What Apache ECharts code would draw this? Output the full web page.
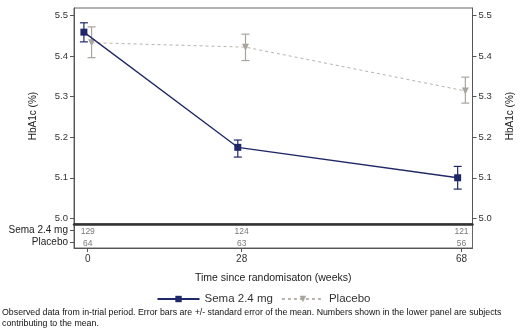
<!DOCTYPE html>
<html>
<head>
<meta charset="utf-8">
<script src="https://cdn.jsdelivr.net/npm/echarts@6/dist/echarts.min.js"></script>
<style>html,body{margin:0;padding:0;background:#fff;}#c{width:527px;height:328px;}</style>
</head>
<body>
<div id="c"></div>
<script>
const weeks = [0, 28, 68];
const semaMean = [5.459, 5.175, 5.100];
const semaLow = [5.435, 5.151, 5.072];
const semaHigh = [5.482, 5.193, 5.128];
const placeboMean = [5.433, 5.422, 5.314];
const placeboLow = [5.396, 5.389, 5.284];
const placeboHigh = [5.472, 5.454, 5.348];
const semaN = [129, 124, 121];
const placeboN = [64, 63, 56];
const yTicks = [5.0, 5.1, 5.2, 5.3, 5.4, 5.5];
const rows = ['Sema 2.4 mg', 'Placebo'];

const DODGE = 0.7; // weeks, side-by-side offset
const SEMA_C = '#1f2868';
const PLAC_C = '#a9a49c';
const FONT = 'Liberation Sans, Arial, sans-serif';

const chart = echarts.init(document.getElementById('c'), null, {renderer: 'canvas'});

function errData(low, high, dodge) {
  return weeks.map((w, i) => [w + dodge, low[i], high[i]]);
}
function errRender(color) {
  return function (params, api) {
    const x = api.value(0);
    const p1 = api.coord([x, api.value(1)]);
    const p2 = api.coord([x, api.value(2)]);
    const hw = 4;
    const st = {stroke: color, lineWidth: 1.2};
    return {type: 'group', children: [
      {type: 'line', shape: {x1: p1[0], y1: p1[1], x2: p2[0], y2: p2[1]}, style: st},
      {type: 'line', shape: {x1: p1[0]-hw, y1: p1[1], x2: p1[0]+hw, y2: p1[1]}, style: st},
      {type: 'line', shape: {x1: p2[0]-hw, y1: p2[1], x2: p2[0]+hw, y2: p2[1]}, style: st}
    ]};
  };
}

const axisLineGray = {show: true, onZero: false, lineStyle: {color: '#555', width: 1}};
const labelStyle = {fontFamily: FONT, fontSize: 9.5, color: '#333'};

const option = {
  backgroundColor: '#fff',
  animation: false,
  textStyle: {fontFamily: FONT},
  grid: [
    {left: 74, right: 54.5, top: 8, height: 216, show: true, borderColor: '#666', borderWidth: 1, backgroundColor: 'transparent'},
    {left: 74, right: 54.5, top: 224, height: 24, show: true, borderColor: '#666', borderWidth: 1, backgroundColor: 'transparent'}
  ],
  xAxis: [
    {type: 'value', gridIndex: 0, min: -2.5, max: 70,
     axisLine: {show: true, onZero: false, lineStyle: {color: '#333', width: 2.5}},
     axisTick: {show: false}, axisLabel: {show: false}, splitLine: {show: false}},
    {type: 'value', gridIndex: 1, min: -2.5, max: 70,
     name: 'Time since randomisaton (weeks)', nameLocation: 'middle', nameGap: 25,
     nameTextStyle: {fontFamily: FONT, fontSize: 10.5, color: '#222'},
     axisLine: {show: true, onZero: false, lineStyle: {color: '#555', width: 1}},
     axisTick: {show: true, length: 4, customValues: weeks, lineStyle: {color: '#555'}},
     axisLabel: {show: true, customValues: weeks, margin: 6, fontFamily: FONT, fontSize: 10, color: '#333'},
     splitLine: {show: false}}
  ],
  yAxis: [
    {type: 'value', gridIndex: 0, position: 'left', min: 4.986, max: 5.5185,
     name: 'HbA1c (%)', nameLocation: 'middle', nameGap: 36, nameRotate: 90,
     nameTextStyle: {fontFamily: FONT, fontSize: 10, color: '#222'},
     axisLine: axisLineGray, axisTick: {show: true, length: 4, customValues: yTicks, lineStyle: {color: '#555'}},
     axisLabel: Object.assign({customValues: yTicks, margin: 6, formatter: v => v.toFixed(1)}, labelStyle),
     splitLine: {show: false}},
    {type: 'value', gridIndex: 0, position: 'right', min: 4.986, max: 5.5185,
     name: 'HbA1c (%)', nameLocation: 'middle', nameGap: 33, nameRotate: 90,
     nameTextStyle: {fontFamily: FONT, fontSize: 10, color: '#222'},
     axisLine: axisLineGray, axisTick: {show: true, length: 4, customValues: yTicks, lineStyle: {color: '#555'}},
     axisLabel: Object.assign({customValues: yTicks, margin: 6, formatter: v => v.toFixed(1)}, labelStyle),
     splitLine: {show: false}},
    {type: 'category', gridIndex: 1, data: rows, inverse: true, position: 'left',
     axisLine: axisLineGray,
     axisTick: {show: true, alignWithLabel: true, interval: 0, length: 4, lineStyle: {color: '#555'}},
     axisLabel: {interval: 0, margin: 6, fontFamily: FONT, fontSize: 10, color: '#222'},
     splitLine: {show: false}}
  ],
  legend: {
    top: 288, left: 'center',
    itemWidth: 42, itemHeight: 8, itemGap: 8,
    textStyle: {fontFamily: FONT, fontSize: 11.5, color: '#333'},
    data: ['Sema 2.4 mg', 'Placebo']
  },
  series: [
    {name: 'Placebo', type: 'line', xAxisIndex: 0, yAxisIndex: 0,
     data: weeks.map((w, i) => [w + DODGE, placeboMean[i]]),
     symbol: 'triangle', symbolRotate: 180, symbolSize: 7,
     lineStyle: {color: '#b8b3ab', width: 1, type: [3, 3]},
     itemStyle: {color: PLAC_C}, z: 2},
    {type: 'custom', xAxisIndex: 0, yAxisIndex: 0, renderItem: errRender(PLAC_C),
     data: errData(placeboLow, placeboHigh, DODGE), z: 3, silent: true},
    {name: 'Sema 2.4 mg', type: 'line', xAxisIndex: 0, yAxisIndex: 0,
     data: weeks.map((w, i) => [w - DODGE, semaMean[i]]),
     symbol: 'rect', symbolSize: 7,
     lineStyle: {color: SEMA_C, width: 1.3},
     itemStyle: {color: SEMA_C}, z: 4},
    {type: 'custom', xAxisIndex: 0, yAxisIndex: 0, renderItem: errRender(SEMA_C),
     data: errData(semaLow, semaHigh, -DODGE), z: 5, silent: true},
    {type: 'scatter', xAxisIndex: 1, yAxisIndex: 2, symbolSize: 0,
     data: weeks.map((w, i) => [w, rows[0], semaN[i]]),
     label: {show: true, position: 'inside', offset: [0, 2], formatter: p => String(p.value[2]), fontFamily: FONT, fontSize: 8.5, color: '#555'}},
    {type: 'scatter', xAxisIndex: 1, yAxisIndex: 2, symbolSize: 0,
     data: weeks.map((w, i) => [w, rows[1], placeboN[i]]),
     label: {show: true, position: 'inside', offset: [0, 1.5], formatter: p => String(p.value[2]), fontFamily: FONT, fontSize: 8.5, color: '#555'}}
  ],
  graphic: [
    {type: 'text', left: 2, top: 307,
     style: {text: 'Observed data from in-trial period. Error bars are +/- standard error of the mean. Numbers shown in the lower panel are subjects\ncontributing to the mean.',
             font: '8.8px ' + FONT, fill: '#111', lineHeight: 11}}
  ]
};
chart.setOption(option);
</script>
</body>
</html>
